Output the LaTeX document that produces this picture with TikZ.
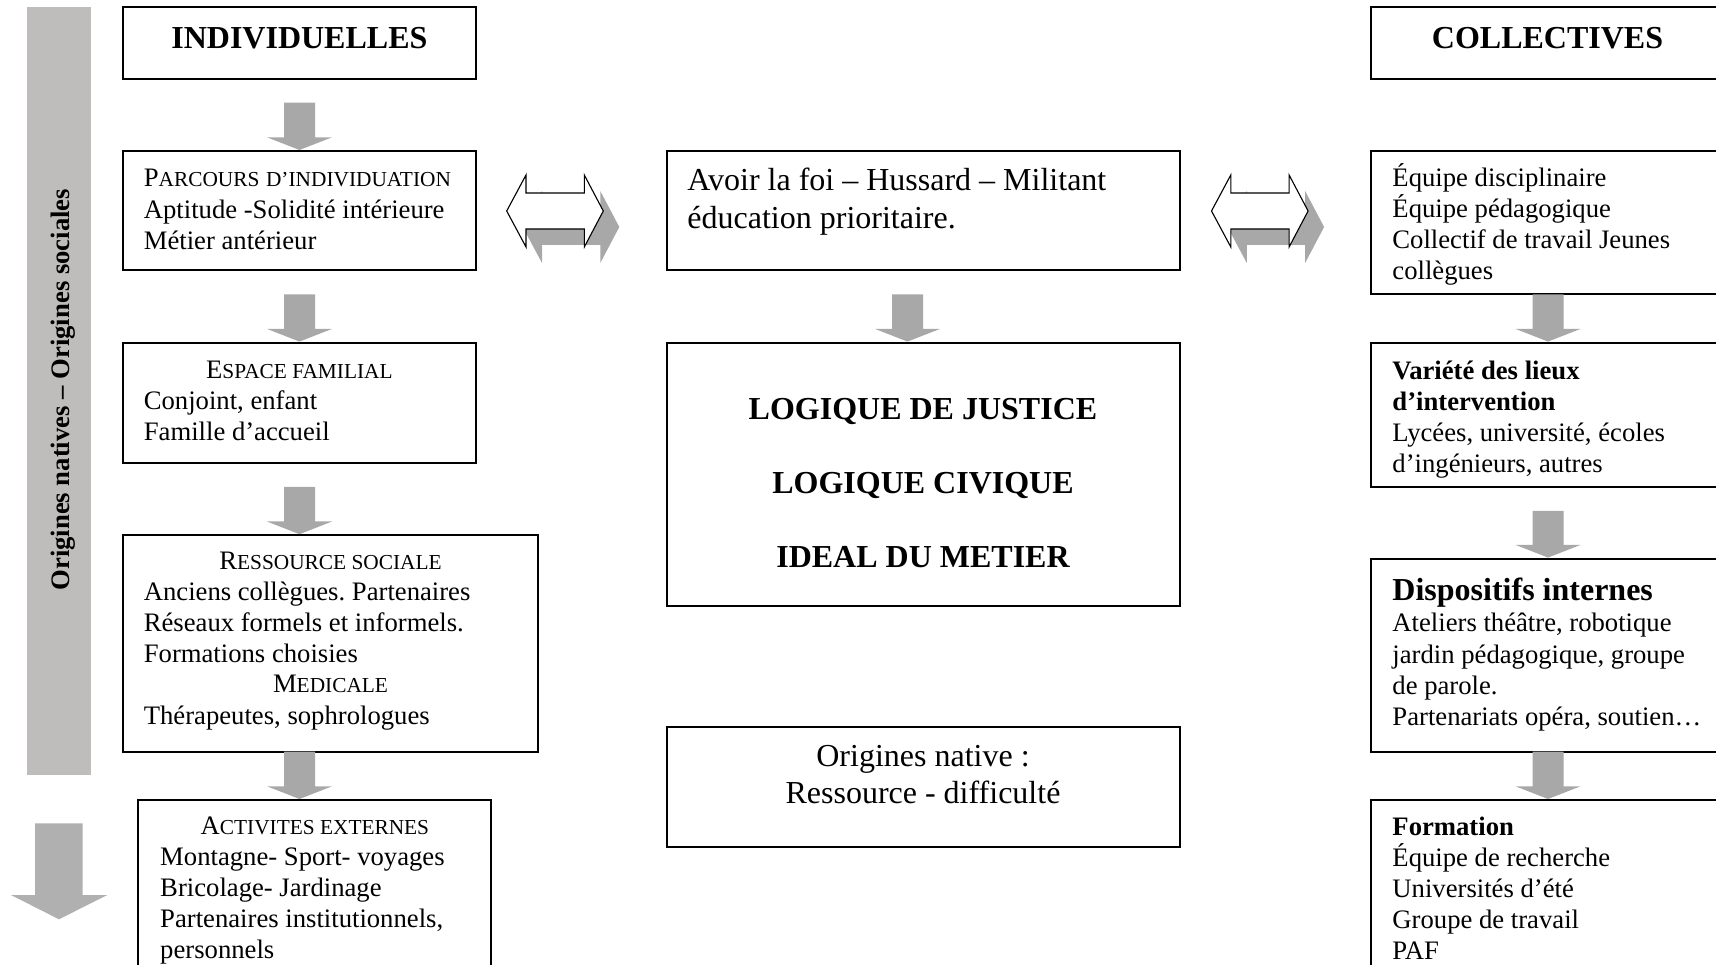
\documentclass[tikz,border=0pt]{standalone}
\usepackage{fontspec}
\setmainfont{Liberation Serif}
\usetikzlibrary{calc,fit}
\definecolor{bargray}{RGB}{191,188,188}
\definecolor{agray}{RGB}{168,168,168}
\definecolor{bgray}{RGB}{176,176,176}
\newcommand\ssc[2]{#1{\fontsize{9.6}{14}\selectfont #2}}
\newcommand\ns{\spaceskip=\fontdimen2\font\xspaceskip=\fontdimen2\font\relax}
\frenchspacing
\begin{document}
\begin{tikzpicture}[x=0.45pt,y=-0.45pt,
  box/.style={draw, line width=0.9pt, inner sep=0pt},
  t12/.style={inner sep=0pt, font=\fontsize{12}{14}\selectfont},
  blk/.style={inner sep=0pt, font=\fontsize{12}{14}\selectfont, text width=#1, align=left, anchor=base west},
  hd/.style={inner sep=0pt, font=\fontsize{14.4}{16.6}\selectfont\bfseries, anchor=base},
  barrow/.style={to path={let \p1=(\tikztostart), \p2=(\tikztotarget) in
    (\x1-6.975pt,\y1) -- (\x1-6.975pt,\y2+5.715pt) -- (\x1-14.625pt,\y2+5.715pt) -- (\x1,\y2)
    -- (\x1+14.625pt,\y2+5.715pt) -- (\x1+6.975pt,\y2+5.715pt) -- (\x1+6.975pt,\y1) -- cycle}}]
\useasboundingbox (0,0) rectangle (1716,965);
\clip (0,0) rectangle (1716,965);
\fill[white] (0,0) rectangle (1716,965);

% side bar
\node[fill=bargray, inner sep=0pt, fit={(26.7,7)(90.7,775)}] (bar) {};
\node[rotate=90, anchor=base, inner sep=0pt, font=\fontsize{12}{14}\selectfont\bfseries] (bart) at (69.5,389.8) {Origines natives – Origines sociales};
\fill[bgray] (35,823.3) -- (82.7,823.3) -- (82.7,895) -- (107.3,895) -- (59,919.3) -- (11,895) -- (35,895) -- cycle;

% left column
\node[box, fit={(122.7,6.7)(476,79.3)}] (ind) {};
\node[hd] (indt) at (299.4,49) {INDIVIDUELLES};
\node[box, fit={(122.7,151)(476,270.3)}] (par) {};
\node[blk=150pt] (part) at (143.4,187) {\ns\ssc{P}{ARCOURS D’INDIVIDUATION}\\Aptitude -Solidité intérieure\\Métier antérieur};
\node[box, fit={(122.7,342.6)(476,463)}] (esp) {};
\node[t12, anchor=base] (esph) at (299.4,378.5) {\ssc{E}{SPACE FAMILIAL}};
\node[blk=150pt] (espt) at (143.4,409.5) {\ns Conjoint, enfant\\Famille d’accueil};
\node[box, fit={(122.7,535.2)(538.4,751.7)}] (res) {};
\node[t12, anchor=base] (resh) at (330.5,570) {\ssc{R}{ESSOURCE SOCIALE}};
\node[blk=175pt] (rest) at (143.4,600.5) {\ns Anciens collègues. Partenaires\\Réseaux formels et informels.\\Formations choisies};
\node[t12, anchor=base] (medh) at (330.5,692.5) {\ssc{M}{EDICALE}};
\node[blk=175pt] (medt) at (143.4,724.2) {\ns Thérapeutes, sophrologues};
\node[box, fit={(138.3,800)(491.4,990)}] (act) {};
\node[t12, anchor=base] (acth) at (314.9,835) {\ssc{A}{CTIVITES EXTERNES}};
\node[blk=150pt] (actt) at (159.8,865.5) {\ns Montagne- Sport- voyages\\Bricolage- Jardinage\\Partenaires institutionnels,\\personnels};

\coordinate (a1) at (299.5,102.7);
\coordinate (a2) at (299.5,294.4);
\coordinate (a3) at (299.5,487);
\coordinate (a4) at (299.5,751.7);
\fill[agray] (a1) to[barrow] (a1 |- par.north);
\fill[agray] (a2) to[barrow] (a2 |- esp.north);
\fill[agray] (a3) to[barrow] (a3 |- res.north);
\fill[agray] (a4) to[barrow] (a4 |- act.north);

% middle column
\node[box, fit={(666.5,151)(1179.8,270.3)}] (foi) {};
\node[inner sep=0pt, font=\fontsize{14.4}{17}\selectfont, text width=220pt, align=left, anchor=base west] (foit) at (687,191) {\ns Avoir la foi – Hussard – Militant\\éducation prioritaire.};
\node[box, fit={(666.5,342.6)(1179.8,606.3)}] (log) {};
\node[inner sep=0pt, font=\fontsize{14.4}{33.3}\selectfont\bfseries, text width=220pt, align=center, anchor=base] (logt) at (923,420) {\ns LOGIQUE DE JUSTICE\\LOGIQUE CIVIQUE\\IDEAL DU METIER};
\node[box, fit={(666.5,726.7)(1179.8,847.1)}] (ori) {};
\node[inner sep=0pt, font=\fontsize{14.4}{16.4}\selectfont, text width=220pt, align=center, anchor=base] (orit) at (923,767) {\ns Origines native :\\Ressource - difficulté};
\coordinate (m1) at (907.5,294.4);
\fill[agray] (m1) to[barrow] (m1 |- log.north);

% right column
\node[box, fit={(1371,6.7)(1724,79.3)}] (col) {};
\node[hd] (colt) at (1547.5,49) {COLLECTIVES};
\node[box, fit={(1371,151)(1724,294.4)}] (c1) {};
\node[blk=145pt] (c1t) at (1392,186.5) {\ns Équipe disciplinaire\\Équipe pédagogique\\Collectif de travail Jeunes\\collègues};
\node[box, fit={(1371,342.6)(1724,487.3)}] (c2) {};
\node[blk=145pt] (c2t) at (1392,379.5) {\ns{\bfseries Variété des lieux\\d’intervention}\\Lycées, université, écoles\\d’ingénieurs, autres};
\node[box, fit={(1371,558.6)(1724,751.7)}] (c3) {};
\node[hd, anchor=base west] (c3h) at (1392,600.5) {Dispositifs internes};
\node[blk=145pt] (c3t) at (1392,632) {\ns Ateliers théâtre, robotique\\jardin pédagogique, groupe\\de parole.\\Partenariats opéra, soutien…};
\node[box, fit={(1371,800)(1724,990)}] (c4) {};
\node[blk=145pt] (c4t) at (1392,835.5) {\ns{\bfseries Formation}\\Équipe de recherche\\Universités d’été\\Groupe de travail\\PAF};

\coordinate (r1) at (1548,294.4);
\coordinate (r2) at (1548,511);
\coordinate (r3) at (1548,751.7);
\fill[agray] (r1) to[barrow] (r1 |- c2.north);
\fill[agray] (r2) to[barrow] (r2 |- c3.north);
\fill[agray] (r3) to[barrow] (r3 |- c4.north);

% double arrows
\foreach \X in {506.7,1211.5}{
  \begin{scope}[shift={(\X,211)}]
    \fill[agray] (16,16) -- (35.3,-20) -- (35.3,-2) -- (93.6,-2) -- (93.6,-20) -- (112.6,16) -- (93.6,52) -- (93.6,34) -- (35.3,34) -- (35.3,52) -- cycle;
    \draw[fill=white, line width=0.5pt] (0,0) -- (19.3,-36) -- (19.3,-18) -- (77.6,-18) -- (77.6,-36) -- (96.6,0) -- (77.6,36) -- (77.6,18) -- (19.3,18) -- (19.3,36) -- cycle;
  \end{scope}}
\end{tikzpicture}
\end{document}
